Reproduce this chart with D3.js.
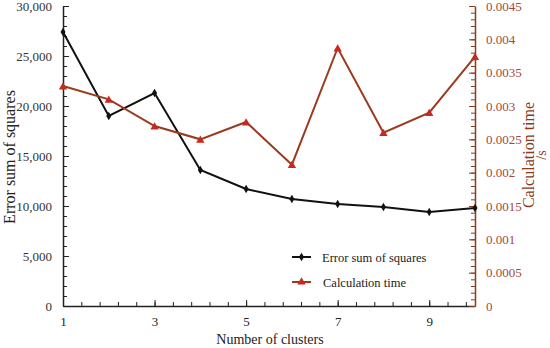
<!DOCTYPE html>
<html>
<head>
<meta charset="utf-8">
<script src="https://cdn.jsdelivr.net/npm/d3@7"></script>
<style>
  body { margin: 0; background: #fff; }
  svg text { font-family: "Liberation Serif", "Times New Roman", serif; }
</style>
</head>
<body>
<svg width="550" height="348"></svg>
<script>
var width = 550;
var height = 348;

// data
var clusters = [1, 2, 3, 4, 5, 6, 7, 8, 9, 10];
var errorSum = [27400, 19000, 21300, 13600, 11700, 10700, 10200, 9900, 9400, 9800];
var calcTime = [0.0033, 0.0031, 0.0027, 0.0025, 0.00276, 0.00212, 0.00387, 0.0026, 0.0029, 0.00374];
var xTicks = [1, 3, 5, 7, 9];
var leftTicks = [0, 5000, 10000, 15000, 20000, 25000, 30000];
var rightTicks = [0, 0.0005, 0.001, 0.0015, 0.002, 0.0025, 0.003, 0.0035, 0.004, 0.0045];

var lineRed = "#9a3a1e";
var markRed = "#c8281e";
var axisRed = "#8b3a1a";
var labelRed = "#a04a3a";

var svg = d3.select("svg");

var xScale = d3.scaleLinear().domain([1, 10]).range([63, 475]);
var yLeft = d3.scaleLinear().domain([0, 30000]).range([306, 6]);
var yRight = d3.scaleLinear().domain([0, 0.0045]).range([306, 6]);

// minor ticks
var xMinor = d3.range(1, 10.001, 0.4);
svg.append("g")
    .attr("transform", "translate(0,306)")
    .call(d3.axisBottom(xScale).tickValues(xMinor).tickSize(-4).tickFormat(""))
    .call(g => g.select(".domain").remove())
    .selectAll("line").attr("stroke", "#222");

svg.append("g")
    .attr("transform", "translate(63,0)")
    .call(d3.axisLeft(yLeft).tickValues(d3.range(0, 30001, 1000)).tickSize(-4).tickFormat(""))
    .call(g => g.select(".domain").remove())
    .selectAll("line").attr("stroke", "#222");

svg.append("g")
    .attr("transform", "translate(475,0)")
    .call(d3.axisRight(yRight).tickValues(d3.range(0, 45.5, 1).map(d => d / 10000)).tickSize(-4).tickFormat(""))
    .call(g => g.select(".domain").remove())
    .selectAll("line").attr("stroke", axisRed);

// x axis
var xAxis = svg.append("g")
    .attr("transform", "translate(0,306)")
    .call(d3.axisBottom(xScale).tickValues(xTicks).tickSize(-6).tickSizeOuter(0).tickPadding(11).tickFormat(d3.format("d")));
xAxis.select(".domain").attr("stroke", "#222").attr("stroke-width", 1.5);
xAxis.selectAll("line").attr("stroke", "#222");
xAxis.selectAll("text").style("font-size", "13px").style("font-family", "Liberation Serif").attr("fill", "#222");

// left axis
var leftAxis = svg.append("g")
    .attr("transform", "translate(63,0)")
    .call(d3.axisLeft(yLeft).tickValues(leftTicks).tickSize(-6).tickSizeOuter(0).tickPadding(11).tickFormat(d3.format(",")));
leftAxis.select(".domain").attr("stroke", "#222").attr("stroke-width", 1.5);
leftAxis.selectAll("line").attr("stroke", "#222");
leftAxis.selectAll("text").style("font-size", "13px").style("font-family", "Liberation Serif").attr("fill", "#333");

// right axis
var rightAxis = svg.append("g")
    .attr("transform", "translate(475,0)")
    .call(d3.axisRight(yRight).tickValues(rightTicks).tickSize(-6).tickSizeOuter(0).tickPadding(11).tickFormat(d => d === 0 ? "0" : String(+d.toFixed(4))));
rightAxis.select(".domain").attr("stroke", axisRed).attr("stroke-width", 1.5);
rightAxis.selectAll("line").attr("stroke", axisRed);
rightAxis.selectAll("text").style("font-size", "13px").style("font-family", "Liberation Serif").attr("fill", labelRed);

// error sum of squares line
var errLine = d3.line()
    .x((d, i) => xScale(clusters[i]))
    .y(d => yLeft(d));

svg.append("path")
    .datum(errorSum)
    .attr("fill", "none")
    .attr("stroke", "#111")
    .attr("stroke-width", 2)
    .attr("d", errLine);

svg.append("g").selectAll("path")
    .data(errorSum)
    .enter()
    .append("path")
        .attr("transform", (d, i) => `translate(${xScale(clusters[i])},${yLeft(d)})`)
        .attr("d", d3.symbol(d3.symbolDiamond, 22))
        .attr("fill", "#111");

// calculation time line
var timeLine = d3.line()
    .x((d, i) => xScale(clusters[i]))
    .y(d => yRight(d));

svg.append("path")
    .datum(calcTime)
    .attr("fill", "none")
    .attr("stroke", lineRed)
    .attr("stroke-width", 2)
    .attr("d", timeLine);

svg.append("g").selectAll("path")
    .data(calcTime)
    .enter()
    .append("path")
        .attr("transform", (d, i) => `translate(${xScale(clusters[i])},${yRight(d) + 1})`)
        .attr("d", d3.symbol(d3.symbolTriangle, 30))
        .attr("fill", markRed);

// legend
var legend = svg.append("g");
legend.append("line").attr("x1", 292).attr("x2", 311).attr("y1", 257).attr("y2", 257)
    .attr("stroke", "#111").attr("stroke-width", 2);
legend.append("path").attr("transform", "translate(301.5,257)")
    .attr("d", d3.symbol(d3.symbolDiamond, 22)).attr("fill", "#111");
legend.append("text").attr("x", 322).attr("y", 261.5).style("font-size", "12.5px").attr("fill", "#222")
    .text("Error sum of squares");

legend.append("line").attr("x1", 292).attr("x2", 311).attr("y1", 282).attr("y2", 282)
    .attr("stroke", lineRed).attr("stroke-width", 2);
legend.append("path").attr("transform", "translate(301.5,282)")
    .attr("d", d3.symbol(d3.symbolTriangle, 30)).attr("fill", markRed);
legend.append("text").attr("x", 323).attr("y", 286.5).style("font-size", "12.5px").attr("fill", "#222")
    .text("Calculation time");

// axis titles
svg.append("text")
    .attr("x", 270)
    .attr("y", 344)
    .style("text-anchor", "middle")
    .style("font-size", "14px")
    .attr("fill", "#222")
    .text("Number of clusters");

svg.append("text")
    .attr("transform", "rotate(-90)")
    .attr("x", -157)
    .attr("y", 15)
    .style("text-anchor", "middle")
    .style("font-size", "16px")
    .attr("fill", "#222")
    .text("Error sum of squares");

svg.append("text")
    .attr("transform", "rotate(-90)")
    .attr("x", -155)
    .attr("y", 534)
    .style("text-anchor", "middle")
    .style("font-size", "16px")
    .attr("fill", axisRed)
    .text("Calculation time");

svg.append("text")
    .attr("transform", "rotate(-90)")
    .attr("x", -155)
    .attr("y", 546)
    .style("text-anchor", "middle")
    .style("font-size", "14px")
    .attr("fill", axisRed)
    .text("/s");
</script>
</body>
</html>
